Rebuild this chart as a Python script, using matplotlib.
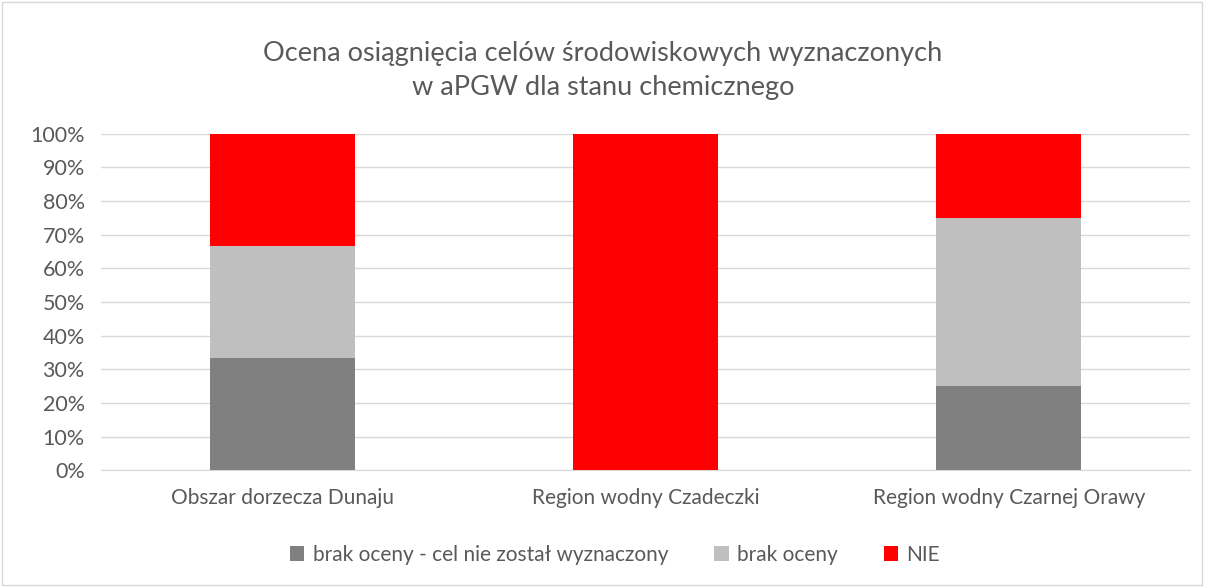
import matplotlib.pyplot as plt
from matplotlib.ticker import PercentFormatter
from matplotlib.patches import Rectangle

categories = ["Obszar dorzecza Dunaju", "Region wodny Czadeczki", "Region wodny Czarnej Orawy"]
series_names = ["brak oceny - cel nie został wyznaczony", "brak oceny", "NIE"]
brak_celu = [33.33, 0, 25]
brak_oceny = [33.33, 0, 50]
nie = [33.34, 100, 25]
colors = ["#808080", "#BFBFBF", "#FF0000"]

plt.rcParams['font.family'] = ['Lato', 'DejaVu Sans']
text_color = "#595959"

fig = plt.figure(figsize=(12.06, 5.87), dpi=100)
ax = fig.add_axes([0.084, 0.199, 0.903, 0.573])

x = range(len(categories))
bottom = [0, 0, 0]
for vals, name, col in zip([brak_celu, brak_oceny, nie], series_names, colors):
    ax.bar(x, vals, width=0.4, bottom=bottom, color=col, label=name, zorder=3)
    bottom = [b + v for b, v in zip(bottom, vals)]

ax.set_xlim(-0.5, 2.5)
ax.set_ylim(0, 100)
ax.set_yticks(range(0, 101, 10))
ax.yaxis.set_major_formatter(PercentFormatter(decimals=0))
ax.set_xticks(list(x))
ax.set_xticklabels(categories)
ax.grid(axis='y', color="#D9D9D9", linewidth=1, zorder=0)
for s in ['top', 'right', 'left']:
    ax.spines[s].set_visible(False)
ax.spines['bottom'].set_color("#D9D9D9")
ax.tick_params(axis='x', length=0, labelsize=15, colors=text_color, pad=13)
ax.tick_params(axis='y', length=0, labelsize=15.5, colors=text_color, pad=12)

fig.text(0.5, 0.88, "Ocena osiągnięcia celów środowiskowych wyznaczonych\nw aPGW dla stanu chemicznego",
         ha='center', va='center', fontsize=19.5, color=text_color, linespacing=1.45)

fig.legend(loc='center', bbox_to_anchor=(0.51, 0.055), ncol=3, frameon=False,
           fontsize=15, labelcolor=text_color, handlelength=0.7, handleheight=0.7,
           columnspacing=2.2, handletextpad=0.4)

fig.patches.append(Rectangle((0.002, 0.003), 0.995, 0.994, transform=fig.transFigure,
                             fill=False, edgecolor="#D9D9D9", linewidth=1))

fig.savefig("out.png", dpi=100)
